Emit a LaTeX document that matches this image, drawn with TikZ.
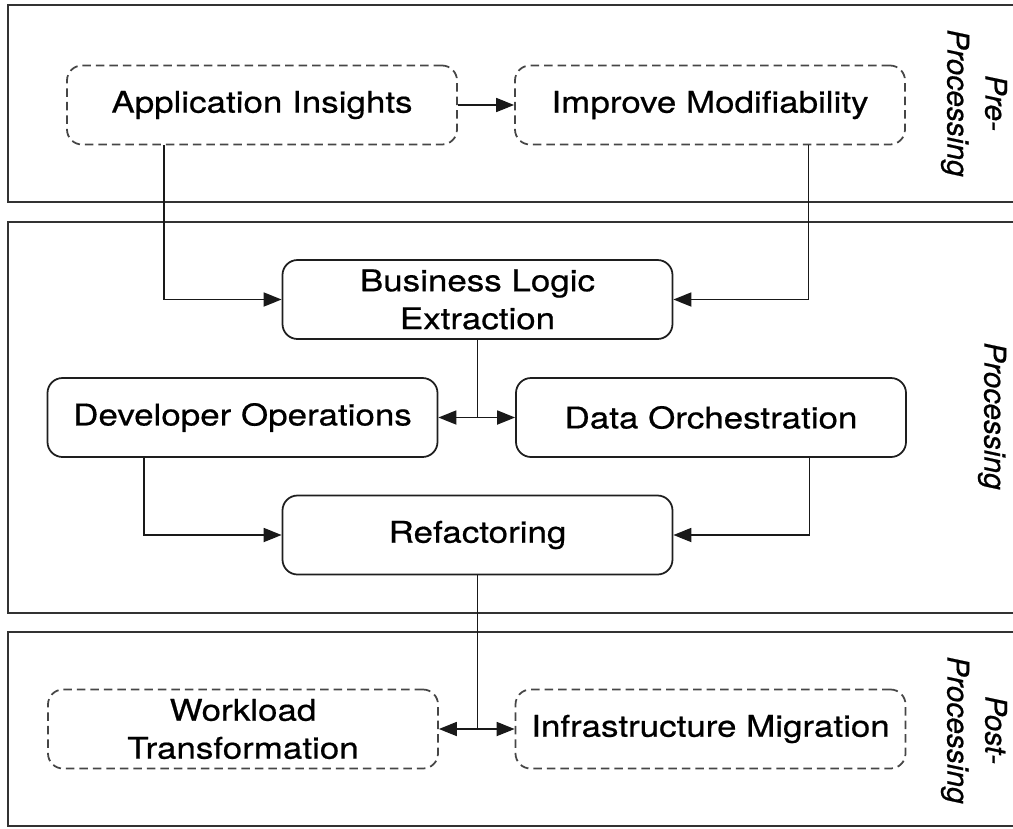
\documentclass[tikz,border=0pt]{standalone}
\usepackage{fontspec}
\setmainfont{TeX Gyre Heros}[FakeStretch=1.17,FakeBold=0.6]
\newfontfamily\sidefont{TeX Gyre Heros}[FakeBold=0.6]
\usepackage{tikz}
\usetikzlibrary{arrows.meta,shapes,positioning}
\usepackage{xcolor}
\definecolor{phaseline}{RGB}{50,50,50}
\definecolor{stepline}{RGB}{30,30,30}
\definecolor{optline}{RGB}{70,70,70}
\tikzstyle{arrow} = [line width=1pt,-{Triangle[length=0.36cm,width=0.28cm]},color=black!90]
\tikzstyle{phase} = [draw=phaseline, line width=1.5pt]
\tikzstyle{mainstep} = [rectangle, rounded corners=0.3cm, minimum width=7.8cm, minimum height=1.58cm, text centered, align=center, draw=stepline, line width=1pt, font=\fontsize{17}{21.6}\selectfont]
\tikzstyle{optstep} = [mainstep, draw=optline, dash pattern=on 0.17cm off 0.1cm]
\tikzstyle{phaselabel} = [rotate=-90, align=center, font=\sidefont\itshape\fontsize{17}{21.6}\selectfont]

\begin{document}
\begin{tikzpicture}
    \useasboundingbox (0,0) rectangle (20.26,-16.56);
    \clip (0,0) rectangle (20.26,-16.56);

    % Phases
    \draw[phase] (0.16,-0.1) rectangle (20.8,-4.04);
    \draw[phase] (0.16,-4.44) rectangle (20.8,-12.26);
    \draw[phase] (0.16,-12.64) rectangle (20.8,-16.52);
    \node[phaselabel] (prelbl) at (19.48,-2.06) {Pre-\\Processing};
    \node[phaselabel] (proclbl) at (19.84,-8.32) {Processing};
    \node[phaselabel] (postlbl) at (19.48,-14.6) {Post-\\Processing};

    % Pre-Processing
    \node[optstep] (insights) at (5.24,-2.1) {Application Insights};
    \node[optstep] (modif) at (14.2,-2.1) {Improve Modifiability};
    \draw[arrow] (insights) -- (modif);

    % Processing
    \node[mainstep] (logic) at (9.55,-5.99) {Business Logic\\Extraction};
    \node[mainstep] (devops) at (4.85,-8.35) {Developer Operations};
    \node[mainstep] (dataorch) at (14.22,-8.35) {Data Orchestration};
    \node[mainstep] (refactor) at (9.55,-10.7) {Refactoring};
    \draw[arrow] ([xshift=1.95cm]insights.south west) |- (logic.west);
    \draw[arrow] ([xshift=-1.95cm]modif.south east) |- (logic.east);
    \draw[arrow] (logic.south) |- (devops.east);
    \draw[arrow] (logic.south) |- (dataorch.west);
    \draw[arrow] ([xshift=1.95cm]devops.south west) |- (refactor.west);
    \draw[arrow] ([xshift=-1.95cm]dataorch.south east) |- (refactor.east);

    % Post-Processing
    \node[optstep] (workload) at (4.86,-14.58) {Workload\\Transformation};
    \node[optstep] (inframig) at (14.21,-14.58) {Infrastructure Migration};
    \draw[arrow] (refactor.south) |- (workload.east);
    \draw[arrow] (refactor.south) |- (inframig.west);
\end{tikzpicture}
\end{document}
